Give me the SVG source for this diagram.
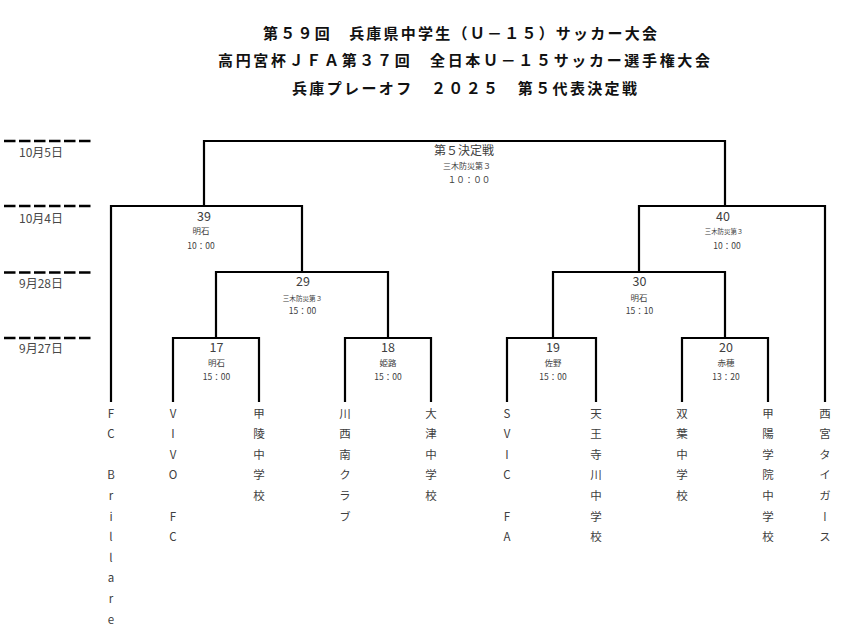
<svg xmlns="http://www.w3.org/2000/svg" width="849" height="635" viewBox="0 0 849 635">
<style>
.title{font-family:"Noto Sans CJK JP","Liberation Sans",sans-serif;font-weight:bold;font-size:15px;fill:#111}
.date{font-family:"Noto Sans CJK JP","Liberation Sans",sans-serif;font-size:12px;fill:#484848}
.num{font-family:"Noto Sans CJK JP","Liberation Sans",sans-serif;font-size:12.5px;fill:#404040;text-anchor:middle}
.ven{font-family:"Noto Sans CJK JP",sans-serif;font-size:8.5px;fill:#404040;text-anchor:middle}
.tim{font-family:"Noto Sans CJK JP",sans-serif;font-size:8.5px;fill:#404040;text-anchor:middle}
.team{font-family:"Noto Sans CJK JP",sans-serif;font-size:11.5px;fill:#404040;writing-mode:vertical-rl;text-orientation:upright;letter-spacing:9.1px}
.ln{fill:none;stroke:#000;stroke-width:2.2}
.dash{fill:none;stroke:#000;stroke-width:2.6;stroke-dasharray:11.5 3.5}
</style>
<g id="title">
<text class="title" x="263" y="38.5" textLength="394" lengthAdjust="spacing">第５９回　兵庫県中学生（Ｕ－１５）サッカー大会</text>
<text class="title" x="218" y="66" textLength="492" lengthAdjust="spacing">高円宮杯ＪＦＡ第３７回　全日本Ｕ－１５サッカー選手権大会</text>
<text class="title" x="292" y="94" textLength="345" lengthAdjust="spacing">兵庫プレーオフ　２０２５　第５代表決定戦</text>
</g>
<g id="dates">
<path class="dash" d="M4,141H93M4,206H93M4,272.5H93M4,338H93"/>
<text class="date" x="19" y="156.5">10月5日</text>
<text class="date" x="19" y="222.5">10月4日</text>
<text class="date" x="19" y="287.5">9月28日</text>
<text class="date" x="19" y="352.5">9月27日</text>
</g>
<g id="connectors">
<path class="ln" d="M204,206V141H725V206"/>
<path class="ln" d="M111,402V206H302V272"/>
<path class="ln" d="M216,338V272H388V338"/>
<path class="ln" d="M173,402V338H259V402"/>
<path class="ln" d="M345,402V338H431V402"/>
<path class="ln" d="M639,272V206H825V402"/>
<path class="ln" d="M553,338V272H725V338"/>
<path class="ln" d="M507,402V338H596V402"/>
<path class="ln" d="M682,402V338H768V402"/>
</g>
<g id="match-final">
<text class="num" x="464" y="154.5" style="font-size:12px">第５決定戦</text>
<text class="ven" x="467" y="169" style="font-size:8px">三木防災第３</text>
<text class="tim" x="469" y="183">１０：００</text>
</g>
<g id="match-39">
<text class="num" x="204" y="220.5">39</text>
<text class="ven" x="201" y="234.3">明石</text>
<text class="tim" x="201" y="249">10：00</text>
</g>
<g id="match-40">
<text class="num" x="723" y="220.5">40</text>
<text class="ven" x="724" y="233.5" style="font-size:6.4px">三木防災第３</text>
<text class="tim" x="727" y="249">10：00</text>
</g>
<g id="match-29">
<text class="num" x="303" y="285.5">29</text>
<text class="ven" x="302.5" y="300.5" style="font-size:6.6px">三木防災第３</text>
<text class="tim" x="302.5" y="314">15：00</text>
</g>
<g id="match-30">
<text class="num" x="639.5" y="285.5">30</text>
<text class="ven" x="639" y="301.2">明石</text>
<text class="tim" x="639.5" y="314">15：10</text>
</g>
<g id="match-17">
<text class="num" x="216.5" y="351.5">17</text>
<text class="ven" x="216.5" y="366.2">明石</text>
<text class="tim" x="216.5" y="380">15：00</text>
</g>
<g id="match-18">
<text class="num" x="388" y="351.5">18</text>
<text class="ven" x="388" y="366.2">姫路</text>
<text class="tim" x="388" y="380">15：00</text>
</g>
<g id="match-19">
<text class="num" x="553" y="351.5">19</text>
<text class="ven" x="553" y="366.2">佐野</text>
<text class="tim" x="553" y="380">15：00</text>
</g>
<g id="match-20">
<text class="num" x="726" y="351.5">20</text>
<text class="ven" x="726" y="366.2">赤穂</text>
<text class="tim" x="726" y="380">13：20</text>
</g>
<g id="team-fc-brillare"><text class="team" x="111" y="407.5">FC Brillare</text></g>
<g id="team-vivo-fc"><text class="team" x="173" y="407.5">VIVO FC</text></g>
<g id="team-koryo"><text class="team" x="259" y="407.5">甲陵中学校</text></g>
<g id="team-kawanishi-minami"><text class="team" x="345" y="407.5">川西南クラブ</text></g>
<g id="team-otsu"><text class="team" x="431" y="407.5">大津中学校</text></g>
<g id="team-svic-fa"><text class="team" x="507" y="407.5">SVIC FA</text></g>
<g id="team-tennojigawa"><text class="team" x="596" y="407.5">天王寺川中学校</text></g>
<g id="team-futaba"><text class="team" x="682" y="407.5">双葉中学校</text></g>
<g id="team-koyo-gakuin"><text class="team" x="768" y="407.5">甲陽学院中学校</text></g>
<g id="team-nishinomiya-tigers"><text class="team" x="825" y="407.5">西宮タイガース</text></g>
</svg>
